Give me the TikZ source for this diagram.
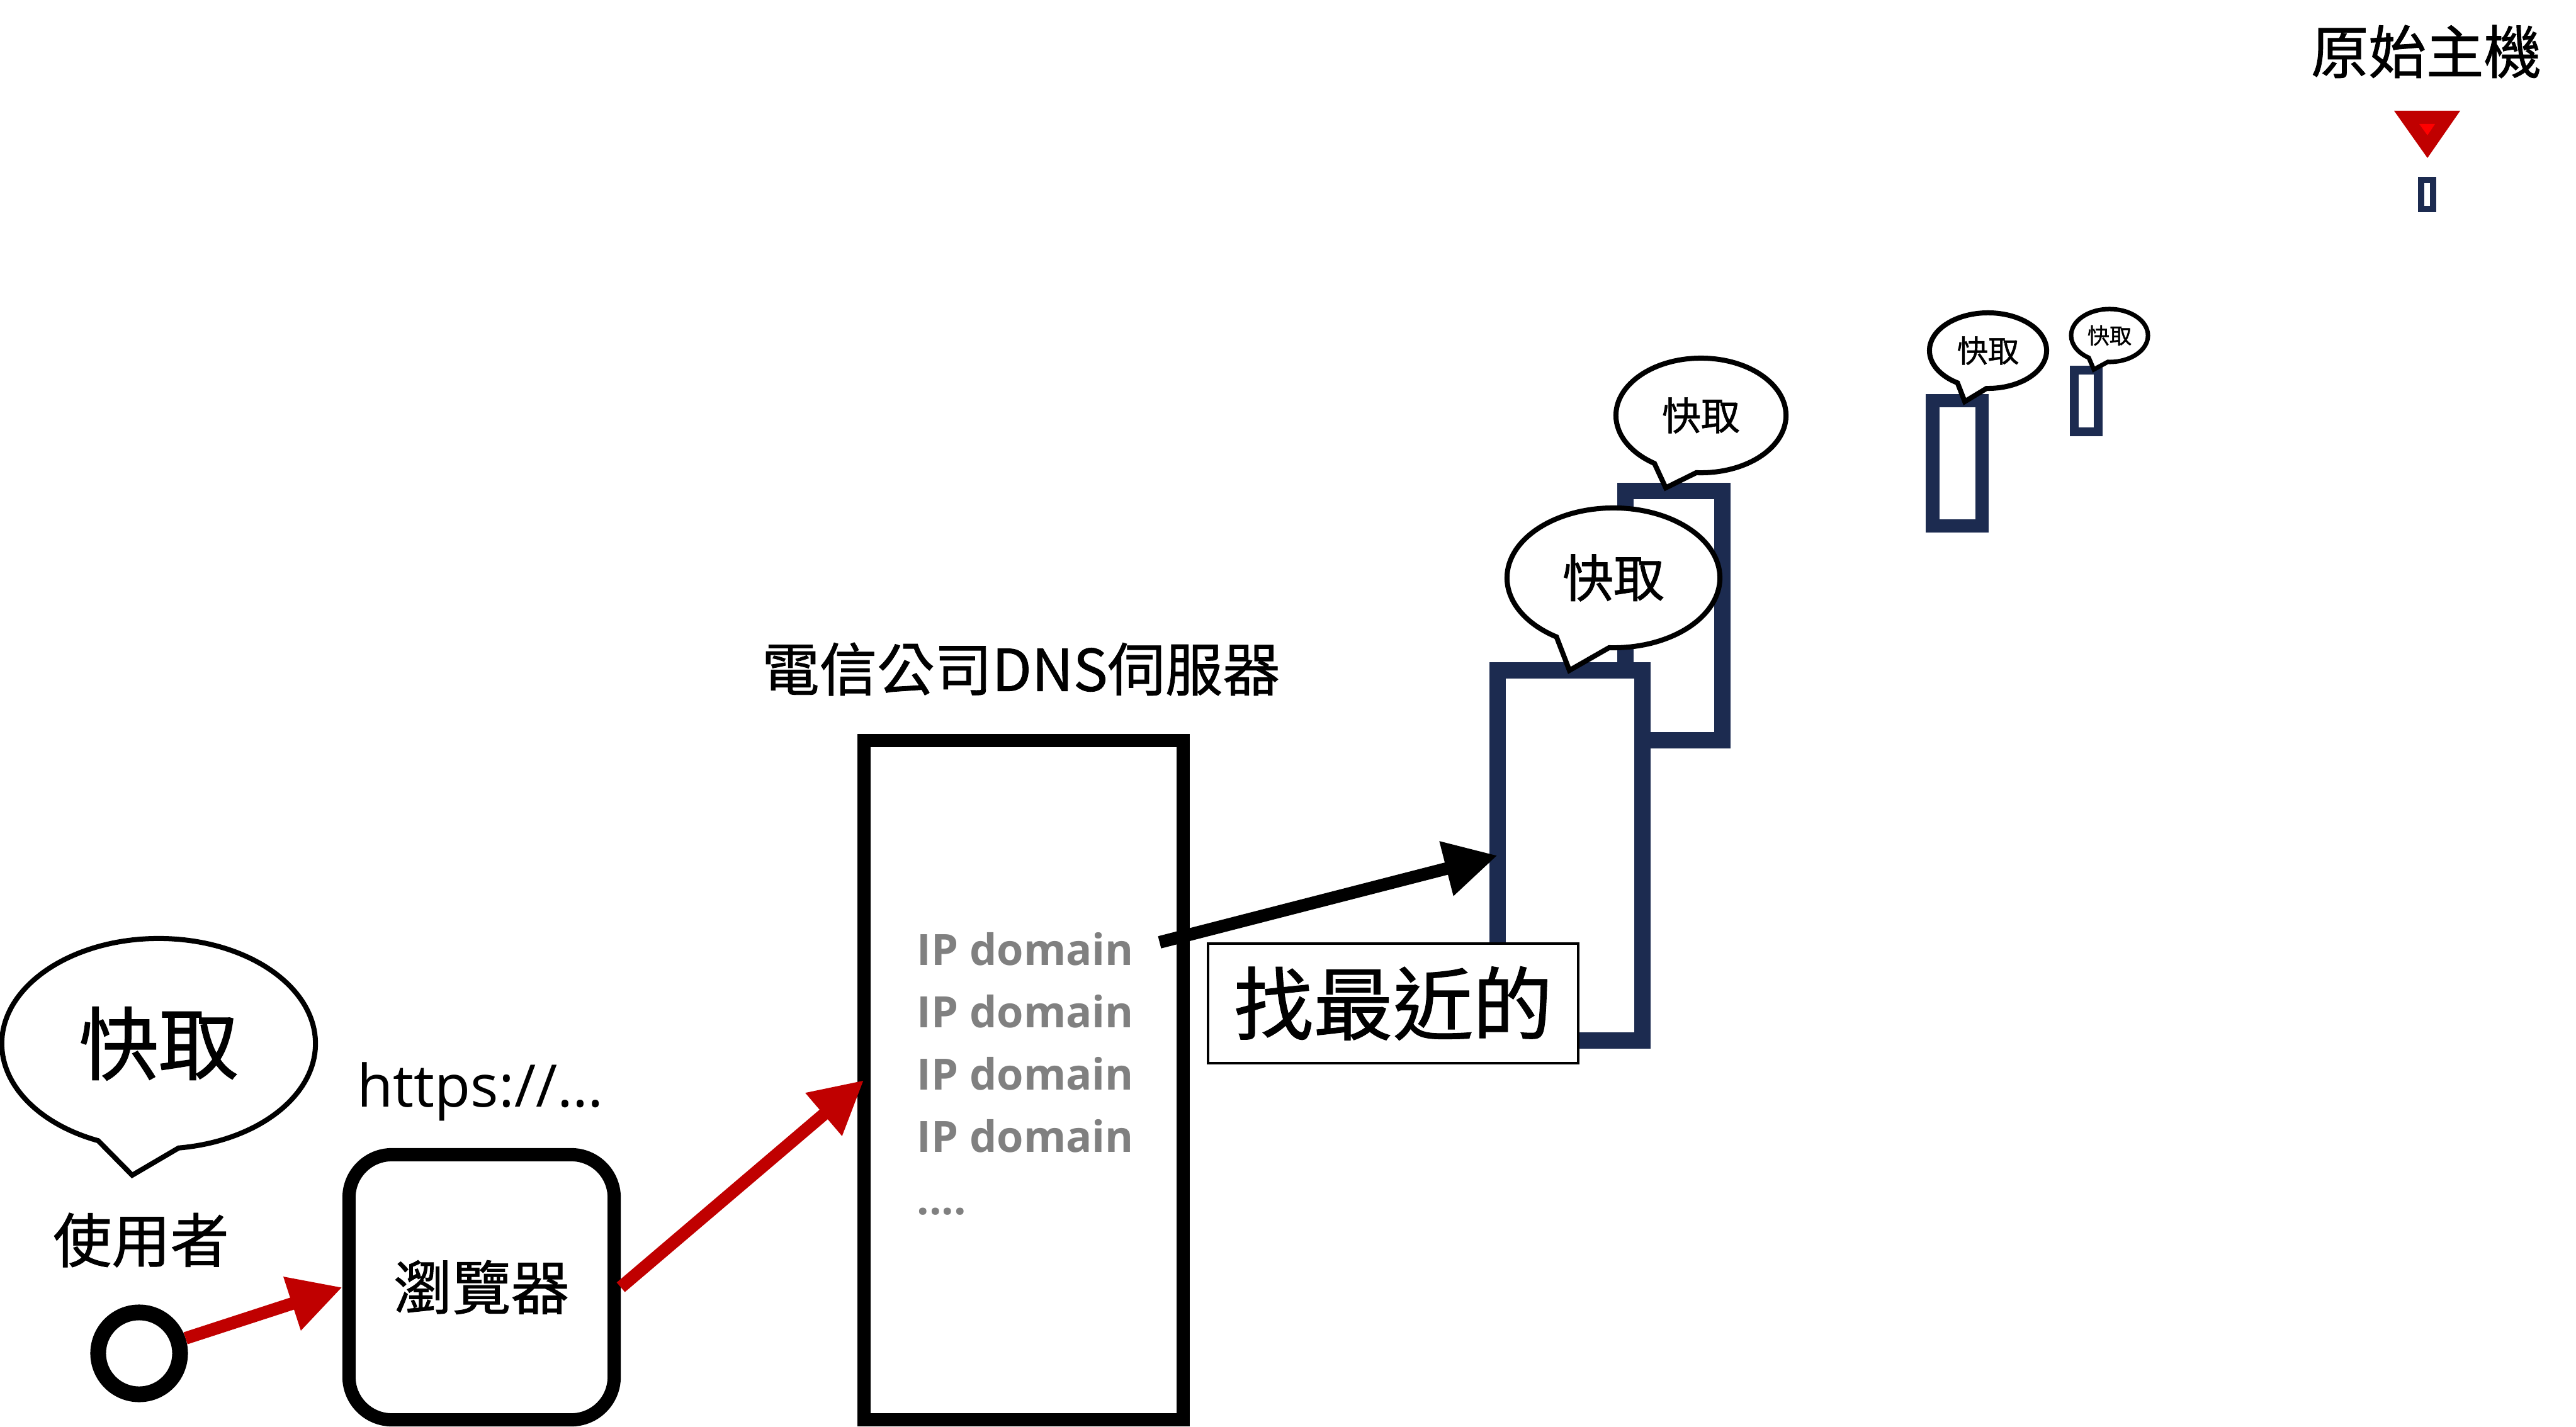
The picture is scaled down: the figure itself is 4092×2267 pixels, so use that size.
\documentclass[tikz,border=0pt]{standalone}
\usepackage{fontspec}
\setmainfont{Open Sans}
\newfontfamily\cjk[FakeBold=1]{Noto Sans CJK TC}
\usetikzlibrary{arrows.meta,%
	shapes.callouts,%
	positioning}
\definecolor{navy}{HTML}{1C2B50}
\definecolor{darkred}{HTML}{C00000}

\begin{document}
\begin{tikzpicture}[x=0.01cm,y=-0.01cm,
	cache_box/.style={draw=navy,fill=white,inner sep=0pt,outer sep=0pt},
	talk_bubble/.style={ellipse callout,draw,fill=white,line width=0.08cm,inner sep=0pt,callout pointer arc=30},
	red_arrow/.style={draw=darkred,line width=0.2cm,-{Triangle[length=0.84cm,width=0.84cm]}},
	black_arrow/.style={draw=black,line width=0.2cm,-{Triangle[length=0.84cm,width=0.84cm]}},
	ip_text/.style={anchor=base west,inner sep=0pt,text=gray,font=\bfseries\fontsize{19.5}{24}\selectfont}]

		\useasboundingbox (0,0) rectangle (4092,2267);

		% user side
		\node[draw,circle,line width=0.25cm,minimum size=1.3cm,inner sep=0pt] (user) at (221,2150) {};
		\node[font=\cjk\fontsize{26.5}{30}\selectfont] (user_label) at (224,1970) {使用者};
		\node[talk_bubble,minimum width=4.98cm,minimum height=3.34cm,callout absolute pointer={(210,1867)},font=\cjk\fontsize{36}{40}\selectfont] (user_cache) at (252,1658) {快取};
		\node[draw,rounded corners=0.68cm,line width=0.21cm,minimum width=4.21cm,minimum height=4.21cm,inner sep=0pt,font=\cjk\fontsize{26.5}{30}\selectfont] (browser) at (765,2045) {瀏覽器};
		\node[anchor=base west,inner sep=0pt,font=\fontsize{26.5}{30}\selectfont] (url) at (567,1758) {https://…};

		% dns server
		\node[draw,line width=0.21cm,minimum width=5.07cm,minimum height=10.79cm,inner sep=0pt,outer sep=0pt] (dns) at (1626,1716) {};
		\node[font=\cjk\fontsize{26}{30}\selectfont] (dns_title) at (1622,1063) {電信公司DNS伺服器};
		\foreach \y in {1533,1632,1731,1830}
			\node[ip_text] (ip_\y) at (1456,\y) {IP domain};
		\node[ip_text] (ip_more) at (1456,1929) {....};
		\coordinate (dns_out) at (1842,1497);

		% cache servers
		\node[cache_box,line width=0.26cm,minimum width=1.54cm,minimum height=3.95cm] (cache_b) at (2659,978) {};
		\node[cache_box,line width=0.26cm,minimum width=2.30cm,minimum height=5.88cm] (cache_a) at (2494,1359) {};
		\node[cache_box,line width=0.21cm,minimum width=0.78cm,minimum height=1.98cm] (cache_c) at (3109,736) {};
		\node[cache_box,line width=0.14cm,minimum width=0.38cm,minimum height=0.98cm] (cache_d) at (3314,637) {};
		\node[cache_box,line width=0.10cm,minimum width=0.19cm,minimum height=0.46cm] (cache_e) at (3855,309) {};

		\node[talk_bubble,minimum width=2.70cm,minimum height=1.82cm,callout absolute pointer={(2646,775)},font=\cjk\fontsize{17.6}{20}\selectfont] (bubble_b) at (2702,660) {快取};
		\node[talk_bubble,minimum width=3.38cm,minimum height=2.22cm,callout absolute pointer={(2493,1065)},font=\cjk\fontsize{23}{26}\selectfont] (bubble_a) at (2563,918) {快取};
		\node[talk_bubble,minimum width=1.86cm,minimum height=1.20cm,callout absolute pointer={(3121,638)},font=\cjk\fontsize{14}{16}\selectfont] (bubble_c) at (3158,557) {快取};
		\node[talk_bubble,line width=0.07cm,minimum width=1.22cm,minimum height=0.84cm,callout absolute pointer={(3326,587)},font=\cjk\fontsize{10}{12}\selectfont] (bubble_d) at (3351,533) {快取};

		\node[draw,fill=white,line width=1pt,minimum width=5.88cm,minimum height=1.90cm,inner sep=0pt,font=\cjk\fontsize{36}{40}\selectfont] (nearest) at (2213,1594) {找最近的};

		% origin host
		\node[font=\cjk\fontsize{26}{30}\selectfont] (origin) at (3854,82) {原始主機};
		\fill[darkred] (3803,176) -- (3908,176) -- (3856,251) -- cycle;
		\fill[red] (3843,197) -- (3868,197) -- (3856,215) -- cycle;

		\draw[red_arrow] (user) -- (browser.west);
		\draw[red_arrow] (browser.east) -- (dns.west);
		\draw[black_arrow] (dns_out) -- (cache_a.west);
		\end{tikzpicture}
\end{document}
